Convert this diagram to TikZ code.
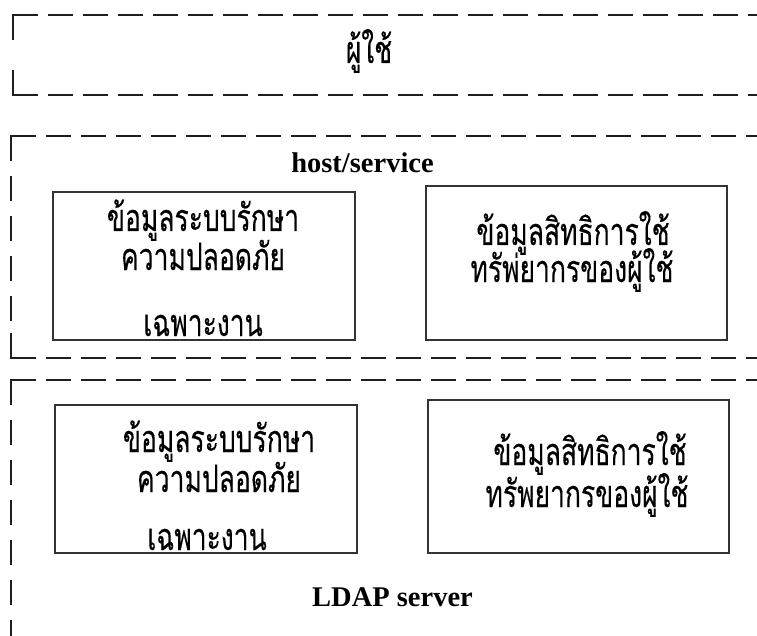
\documentclass[tikz,border=0pt]{standalone}
\usepackage{graphicx}
\usepackage{fontspec}
\setmainfont{Liberation Serif}
\newfontfamily\thaifont[Script=Thai,FakeBold=0.3]{Loma}
% Thai lines are set slightly condensed and tall
\newcommand{\thailine}[1]{\scalebox{0.945}[1.35]{#1}}
\begin{document}
\begin{tikzpicture}[x=1pt,y=-1pt,
  frame/.style={line width=2.5pt, draw=black!88},
  hdash/.style={frame, dash pattern=on 25pt off 10pt},
  vdash/.style={frame, dash pattern=on 25pt off 15pt},
  infobox/.style={draw=black!80, line width=1.1pt, rectangle, inner sep=0pt},
  thaitext/.style={font=\thaifont\fontsize{28}{34}\selectfont, anchor=base, inner sep=0pt},
  latintext/.style={font=\bfseries\fontsize{28.5}{32}\selectfont, anchor=base, inner sep=0pt}]
\useasboundingbox (0,0) rectangle (757,636);

% user layer frame
\draw[frame] (13,40) -- (13,15) -- (38,15);
\draw[hdash] (48,15) -- (757,15);
\draw[frame] (13,70) -- (13,95) -- (38,95);
\draw[hdash] (48,95) -- (757,95);
\node[thaitext] (user) at (369,63) {\thailine{ผู้ใช้}};

% host/service frame
\draw[frame] (11,161) -- (11,136) -- (36,136);
\draw[hdash] (46,136) -- (757,136);
\draw[vdash] (11,176) -- (11,321);
\draw[frame] (11,333) -- (11,358) -- (36,358);
\draw[hdash] (46,358) -- (757,358);
\node[latintext] (hostlbl) at (362.5,173) {host/service};

\node[infobox, minimum width=302pt, minimum height=148pt] (hostsec) at (204,266) {};
\node[thaitext] (hs1) at (203,231) {\thailine{ข้อมูลระบบรักษา}};
\node[thaitext] (hs2) at (203,270) {\thailine{ความปลอดภัย}};
\node[thaitext] (hs3) at (203,336) {\thailine{เฉพาะงาน}};

\node[infobox, minimum width=301pt, minimum height=154pt] (hostacl) at (576.5,263) {};
\node[thaitext] (ha1) at (573,245) {\thailine{ข้อมูลสิทธิการใช้}};
\node[thaitext] (ha2) at (572,282) {\thailine{ทรัพ่ยากรของผู้ใช้}};

% LDAP server frame
\draw[frame] (11,405) -- (11,380) -- (36,380);
\draw[hdash] (46,380) -- (757,380);
\draw[vdash] (11,420) -- (11,636);
\node[latintext] (ldaplbl) at (392.5,606) {LDAP server};

\node[infobox, minimum width=302pt, minimum height=148pt] (ldapsec) at (206,479) {};
\node[thaitext] (ls1) at (219,452) {\thailine{ข้อมูลระบบรักษา}};
\node[thaitext] (ls2) at (219,492) {\thailine{ความปลอดภัย}};
\node[thaitext] (ls3) at (207,550) {\thailine{เฉพาะงาน}};

\node[infobox, minimum width=301pt, minimum height=153pt] (ldapacl) at (578.5,476.5) {};
\node[thaitext] (la1) at (590,465) {\thailine{ข้อมูลสิทธิการใช้}};
\node[thaitext] (la2) at (587,507) {\thailine{ทรัพยากรของผู้ใช้}};
\end{tikzpicture}
\end{document}
